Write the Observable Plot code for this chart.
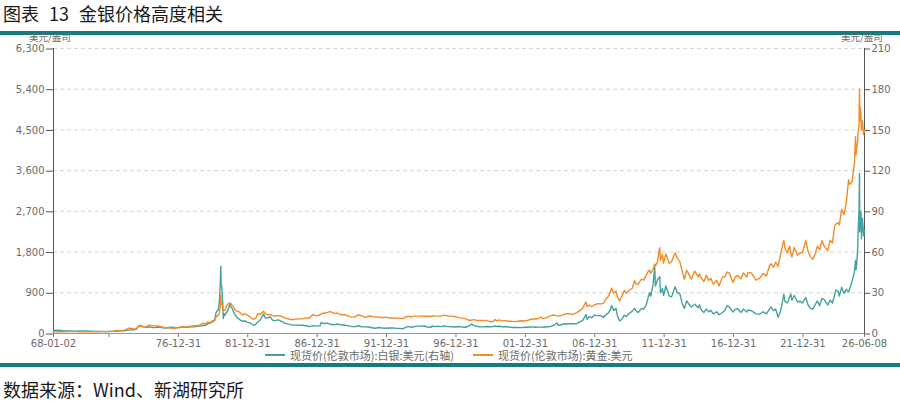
<!DOCTYPE html>
<html>
<head>
<meta charset="utf-8">
<script src="https://cdn.jsdelivr.net/npm/d3@7"></script>
<script src="https://cdn.jsdelivr.net/npm/@observablehq/plot@0.6"></script>
<style>
  html, body { margin: 0; padding: 0; background: #fff; }
  #page { position: relative; width: 900px; height: 406px; overflow: hidden; background: #fff; font-family: "Noto Sans CJK SC", "Noto Sans", sans-serif; }
  #title { position: absolute; left: 3px; top: 0px; font-size: 18px; line-height: 26px; color: #1a1a1a; white-space: nowrap; }
  #title span { margin-right: 10px; }
  .bar { position: absolute; left: 0; width: 900px; height: 4px; background: #127c7e; }
  #chart { position: absolute; left: 0; top: 35px; }
  .unit { position: absolute; top: 33px; font-size: 9.5px; line-height: 9px; height: 9px; color: #6b6b6b; }
  .leg { position: absolute; top: 349px; font-size: 11px; line-height: 12px; color: #6b6b6b; white-space: nowrap; }
  .swatch { position: absolute; top: 354px; width: 20px; height: 2px; }
  #source { position: absolute; left: 3px; top: 376px; font-size: 18px; line-height: 26px; color: #1a1a1a; white-space: pre; }
</style>
</head>
<body>
<div id="page">
  <div id="title"><span>图表</span><span>13</span>金银价格高度相关</div>
  <div class="bar" style="top:31px"></div>
  <div id="chart"></div>
  <div class="unit" style="left:29px">美元/盎司</div>
  <div class="unit" style="left:841px">美元/盎司</div>
  <div class="swatch" style="left:265px;background:#45a19e"></div>
  <div class="leg" style="left:290px">现货价(伦敦市场):白银:美元(右轴)</div>
  <div class="swatch" style="left:473px;background:#f38b26"></div>
  <div class="leg" style="left:498px">现货价(伦敦市场):黄金:美元</div>
  <div class="bar" style="top:363px"></div>
  <div id="source">数据来源：Wind、新湖研究所</div>
</div>
<script>
// ---- data ----
const dates = [
"1968-01-02","1968-04-15","1968-07-15","1968-10-15","1969-01-15","1969-04-15","1969-07-15","1969-10-15",
"1970-01-15","1970-04-15","1970-07-15","1970-10-15","1971-01-15","1971-04-15","1971-07-15","1971-10-15",
"1972-01-15","1972-04-15","1972-07-15","1972-10-15","1973-01-15","1973-03-15","1973-06-15","1973-08-15",
"1973-10-15","1973-12-15","1974-02-15","1974-03-15","1974-05-15","1974-07-15","1974-09-15","1974-11-15",
"1975-01-15","1975-04-15","1975-07-15","1975-10-15","1976-01-15","1976-04-15","1976-07-15","1976-10-15",
"1977-01-15","1977-04-15","1977-07-15","1977-10-15","1978-01-15","1978-04-15","1978-07-15","1978-10-15",
"1978-12-15","1979-02-15","1979-04-15","1979-06-15","1979-08-15","1979-09-15","1979-10-15","1979-11-15",
"1979-12-15","1980-01-10","1980-01-21","1980-01-31","1980-02-15","1980-03-15","1980-03-27","1980-04-15",
"1980-05-15","1980-06-15","1980-07-15","1980-09-15","1980-10-15","1980-11-15","1980-12-15","1981-02-15",
"1981-04-15","1981-06-15","1981-08-15","1981-10-15","1981-12-15","1982-02-15","1982-04-15","1982-06-15",
"1982-08-15","1982-09-15","1982-11-15","1982-12-15","1983-02-15","1983-04-15","1983-06-15","1983-08-15",
"1983-10-15","1983-12-15","1984-03-15","1984-06-15","1984-09-15","1984-12-15","1985-03-15","1985-06-15",
"1985-09-15","1985-12-15","1986-03-15","1986-06-15","1986-09-15","1986-12-15","1987-03-15","1987-04-15",
"1987-06-15","1987-09-15","1987-12-15","1988-03-15","1988-06-15","1988-09-15","1988-12-15","1989-03-15",
"1989-06-15","1989-09-15","1989-12-15","1990-03-15","1990-06-15","1990-09-15","1990-12-15","1991-03-15",
"1991-06-15","1991-09-15","1991-12-15","1992-03-15","1992-06-15","1992-09-15","1992-12-15","1993-03-15",
"1993-05-15","1993-08-15","1993-10-15","1993-12-15","1994-03-15","1994-06-15","1994-09-15","1994-12-15",
"1995-03-15","1995-04-15","1995-06-15","1995-09-15","1995-12-15","1996-02-15","1996-06-15","1996-09-15",
"1996-12-15","1997-03-15","1997-06-15","1997-09-15","1997-12-15","1998-02-15","1998-04-15","1998-06-15",
"1998-09-15","1998-12-15","1999-03-15","1999-06-15","1999-09-15","1999-10-15","1999-12-15","2000-02-15",
"2000-04-15","2000-07-15","2000-10-15","2000-12-15","2001-03-15","2001-06-15","2001-09-15","2001-12-15",
"2002-03-15","2002-06-15","2002-09-15","2002-12-15","2003-02-15","2003-04-15","2003-07-15","2003-09-15",
"2003-12-15","2004-02-15","2004-04-15","2004-05-15","2004-08-15","2004-10-15","2004-12-15","2005-03-15",
"2005-06-15","2005-09-15","2005-12-15","2006-02-15","2006-05-15","2006-06-15","2006-08-15","2006-10-15",
"2006-12-15","2007-03-15","2007-06-15","2007-08-15","2007-10-15","2007-12-15","2008-02-15","2008-03-15",
"2008-05-15","2008-07-15","2008-08-15","2008-10-15","2008-12-15","2009-02-15","2009-04-15","2009-06-15",
"2009-09-15","2009-11-15","2009-12-15","2010-02-15","2010-05-15","2010-07-15","2010-09-15","2010-11-15",
"2010-12-15","2011-01-15","2011-03-15","2011-04-28","2011-05-15","2011-07-15","2011-08-15","2011-09-06",
"2011-09-26","2011-11-15","2011-12-15","2012-02-15","2012-05-15","2012-07-15","2012-10-15","2012-12-15",
"2013-02-15","2013-04-15","2013-06-15","2013-08-15","2013-10-15","2013-12-15","2014-03-15","2014-06-15",
"2014-07-15","2014-09-15","2014-11-15","2015-01-15","2015-03-15","2015-05-15","2015-07-15","2015-10-15",
"2015-12-15","2016-03-15","2016-05-15","2016-07-15","2016-09-15","2016-12-15","2017-02-15","2017-04-15",
"2017-07-15","2017-09-15","2017-12-15","2018-01-15","2018-04-15","2018-08-15","2018-11-15","2019-02-15",
"2019-05-15","2019-08-15","2019-09-15","2019-11-15","2020-01-15","2020-03-15","2020-05-15","2020-07-15",
"2020-08-15","2020-09-15","2020-11-15","2021-01-15","2021-02-15","2021-03-15","2021-05-15","2021-08-15",
"2021-10-15","2021-12-15","2022-03-15","2022-05-15","2022-07-15","2022-09-15","2022-11-15","2023-01-15",
"2023-03-15","2023-05-15","2023-07-15","2023-10-15","2023-12-15","2024-02-15","2024-04-15","2024-05-15",
"2024-07-15","2024-08-15","2024-10-15","2024-12-15","2025-02-15","2025-04-15","2025-05-15","2025-07-15",
"2025-09-15","2025-10-16","2025-10-28","2025-11-15","2025-12-10","2025-12-26","2026-01-14","2026-01-28",
"2026-02-02","2026-02-15","2026-03-05","2026-03-20","2026-04-15","2026-05-15","2026-06-08"
];
const gold = [
35.2,38,39.5,39.5,42,43.3,41.5,40,
35,36,35.3,37.5,37.9,39.5,41,42.5,
46,49,65,64,65,84,120,110,
100,106,150,168,164,143,151,181,
176,169,165,143,128,128,118,117,
133,149,144,158,173,170,188,227,
207,251,239,279,302,355,392,392,
455,600,850,650,665,553,500,517,
514,600,645,675,660,620,594,500,
495,460,410,435,410,374,333,314,
360,437,415,444,492,432,413,416,
394,388,394,377,341,320,304,317,
323,323,345,342,418,391,408,438,
449,460,486,444,451,413,420,390,
367,362,410,393,352,388,378,363,
368,349,362,341,341,346,334,330,
370,380,365,383,384,385,390,380,
382,391,387,383,387,405,385,383,
369,352,341,323,289,297,308,292,
289,291,286,261,265,310,280,300,
280,282,270,272,263,270,283,276,
294,321,320,333,360,328,352,378,
407,405,390,385,400,420,440,430,
425,460,510,555,700,600,630,590,
630,660,655,665,755,805,920,1000,
890,940,820,720,830,950,890,945,
1000,1170,1100,1090,1200,1180,1290,1380,
1400,1330,1420,1530,1490,1600,1800,1895,
1620,1750,1550,1760,1550,1590,1780,1660,
1600,1390,1200,1400,1300,1200,1380,1250,
1320,1210,1150,1290,1170,1220,1090,1170,
1050,1250,1250,1360,1330,1130,1250,1280,
1210,1340,1250,1350,1340,1180,1220,1330,
1275,1520,1540,1460,1580,1480,1720,1960,
2060,1880,1780,1930,1780,1690,1900,1730,
1780,1790,2050,1820,1700,1640,1750,1930,
1850,2050,1930,1830,2060,2000,2380,2420,
2450,2400,2740,2630,2900,3400,3300,3350,
3750,4350,3950,4100,4250,4500,4600,5400,
4700,5000,4900,4500,4700,4400,4500
];
const silver = [
2.17,2.4,2.3,1.95,1.95,1.8,1.65,1.85,
1.85,1.85,1.7,1.75,1.6,1.6,1.6,1.35,
1.45,1.6,1.7,1.85,2.0,2.2,2.5,2.9,
2.8,3.0,5.5,5.9,5.4,4.7,4.5,5.0,
4.5,4.3,4.8,4.4,4.1,4.4,4.6,4.3,
4.4,4.8,4.5,4.7,4.9,5.2,5.4,5.9,
5.9,7.3,7.6,8.6,9.6,15,16.8,17,
23,38,49.5,36,35,21,11,14.5,
13.5,15.8,16,21.5,19.5,18.5,16.4,13,
11.3,9.9,9,9.4,8.2,8,7,5.9,
7.2,8.5,9.6,11,14.3,11.4,11.6,12.2,
9.8,9.5,10,8.7,7.5,6.9,6.2,6.2,
6.1,6.1,5.7,5.1,5.8,5.4,5.6,8.1,
7.4,7.6,6.8,6.4,7,6.4,6.1,5.8,
5.2,5.1,5.7,5,4.9,4.8,4.2,3.9,
4.4,4,3.9,4.1,4,3.8,3.7,3.6,
4.5,5.2,4.3,5,5.4,5.4,5.5,4.8,
4.6,5.5,5.1,5.4,5.1,5.6,5.1,5,
4.8,5.2,4.7,4.6,5.6,6.9,6,5.3,
5,4.9,5.2,5,5.2,5.5,5.2,5.3,
5,5,4.8,4.6,4.4,4.4,4.3,4.6,
4.6,4.9,4.6,4.7,4.7,4.6,5,5,
5.6,6.6,7.8,5.9,6.6,7.2,7,7.3,
7.2,7.3,8.8,9.5,14,10.5,12.5,11.5,
13.5,13.2,13.2,11.8,13.8,14.8,17.5,20.5,
17,18.5,13.5,9.2,10.5,13.5,12.5,14.5,
16.5,18.5,17,15.5,18.5,18,21,27.5,
30,27.5,36,48.5,35,40,41,42,
30,33,28,35,27.5,27,34.5,30,
29.5,22.5,18.5,24,21.5,19.5,21.5,19,
21,17,15.5,18,16,17,14.5,16,
13.8,15.5,17,20.5,19.5,15.8,18,18.2,
15.5,18,15.8,17.3,16.8,14.5,14.2,16,
14.5,18.5,19.5,16.9,18,12,16,24,
29,23.5,22.5,27,29,24.5,28,23,
24,22.5,26.5,21,18.5,18,21,24,
20.5,25.8,25,21,24.5,22.5,28.5,32,
31,27.5,34,29.5,32.5,30.5,33,38.5,
45,54,47,51,62,78,90,118,
75,80,90,70,85,72,76
];
const goldTicks = [0, 900, 1800, 2700, 3600, 4500, 5400, 6300];
const ratio = 30; // right axis (silver) = left axis / 30
const xTickDates = ["1968-01-02","1971-12-31","1976-12-31","1981-12-31","1986-12-31","1991-12-31",
                    "1996-12-31","2001-12-31","2006-12-31","2011-12-31","2016-12-31","2021-12-31","2026-06-08"];
const hiddenXLabels = ["1971-12-31"];

// ---- build ----
const parse = d3.utcParse("%Y-%m-%d");
const rows = dates.map((d, i) => ({date: parse(d), gold: gold[i], silver: silver[i]}));
const xTicks = xTickDates.map(parse);
const start = parse(xTickDates[0]);
const end = parse(xTickDates[xTickDates.length - 1]);
const fmt = d3.utcFormat("%y-%m-%d");
const hidden = new Set(hiddenXLabels);

const chart = Plot.plot({
  width: 900,
  height: 328,
  marginTop: 13,
  marginBottom: 30,
  marginLeft: 53,
  marginRight: 36,
  style: {fontFamily: "DejaVu Sans, sans-serif", fontSize: "10px", color: "#6b6b6b", background: "#fff", overflow: "visible"},
  x: {type: "utc", domain: [start, end]},
  y: {domain: [0, 6300]},
  marks: [
    Plot.gridY(goldTicks.slice(1), {stroke: "#d4d4d4", strokeOpacity: 1, strokeDasharray: "4,3"}),
    Plot.axisY(goldTicks, {anchor: "left", tickFormat: d3.format(","), tickSize: 7, tickPadding: 2, dy: 0.5, label: null, stroke: "#555"}),
    Plot.axisY(goldTicks, {anchor: "right", tickFormat: d => String(d / ratio), tickSize: 5, tickPadding: 2, dy: 0.5, label: null, stroke: "#555"}),
    Plot.axisX(xTicks, {tickFormat: d => hidden.has(d3.utcFormat("%Y-%m-%d")(d)) ? "" : fmt(d), tickSize: 4, tickPadding: 2, label: null, stroke: "#777"}),
    Plot.ruleY([0], {stroke: "#999"}),
    Plot.ruleX([start], {stroke: "#555"}),
    Plot.ruleX([end], {stroke: "#555"}),
    Plot.lineY(rows, {x: "date", y: d => d.silver * ratio, stroke: "#45a19e", strokeWidth: 1.4}),
    Plot.lineY(rows, {x: "date", y: "gold", stroke: "#f38b26", strokeWidth: 1.4})
  ]
});
document.getElementById("chart").appendChild(chart);
</script>
</body>
</html>
